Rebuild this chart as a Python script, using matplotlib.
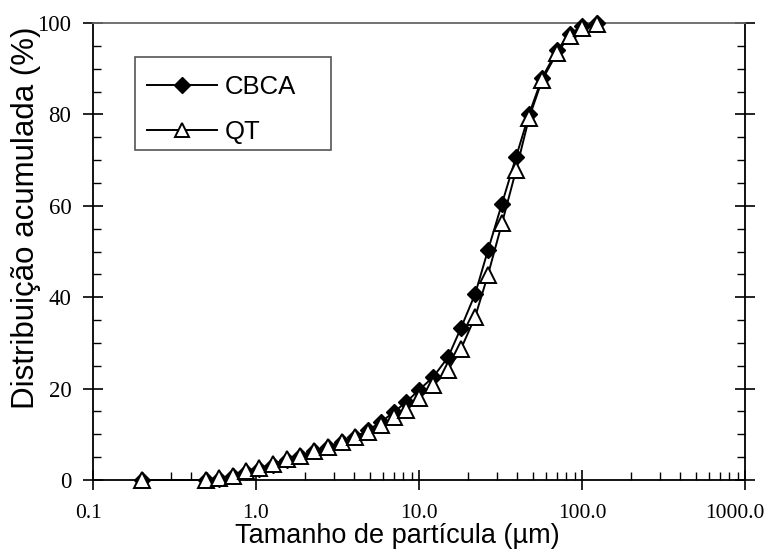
import matplotlib
matplotlib.use("Agg")
import matplotlib.pyplot as plt
import matplotlib.transforms as mtransforms
from matplotlib.patches import Rectangle
from matplotlib.ticker import FixedLocator, FixedFormatter, MultipleLocator, NullFormatter

# particle size classes (µm)
sizes = [0.2, 0.49, 0.59, 0.72, 0.87, 1.04, 1.27, 1.55, 1.86, 2.27, 2.77,
         3.37, 4.05, 4.87, 5.85, 7.03, 8.32, 10.0, 12.2, 15.1, 18.1, 22.1,
         26.5, 32.3, 39.4, 47.3, 56.9, 70.3, 84.4, 100.0, 123.6]

# cumulative passing (%)
cbca = [0.0, 0.0, 0.3, 0.8, 1.7, 2.4, 3.3, 4.3, 5.2, 6.3, 7.2,
        8.3, 9.4, 10.9, 12.7, 14.9, 17.0, 19.7, 22.5, 26.9, 33.3, 40.7,
        50.3, 60.5, 70.7, 80.0, 88.0, 94.0, 97.6, 99.3, 100.0]
qt = [0.0, 0.0, 0.4, 0.9, 2.0, 2.6, 3.5, 4.5, 5.3, 6.4, 7.3,
      8.4, 9.4, 10.5, 12.0, 13.8, 15.3, 17.9, 20.8, 24.1, 28.7, 35.7,
      44.9, 56.2, 67.8, 79.2, 87.5, 93.5, 97.2, 99.0, 99.8]

x_ticks = [0.1, 1.0, 10.0, 100.0, 1000.0]
x_tick_labels = ["0.1", "1.0", "10.0", "100.0", "1000.0"]

serif = "Liberation Serif"
sans = "Liberation Sans"

W, H = 774, 550
fig = plt.figure(figsize=(W / 100, H / 100), dpi=100)
ax = fig.add_axes([93 / W, 1 - 480 / H, 652 / W, 457 / H])


def ax_frac(px, py):
    """pixel position (from top-left of the figure) -> axes fraction"""
    return (px - 93) / 652, (480 - py) / 457


ax.plot(sizes, cbca, color="black", lw=1.4, marker="D", ms=8.5,
        mfc="black", mec="black", label="CBCA", zorder=3, clip_on=False)
ax.plot(sizes, qt, color="black", lw=1.4, marker="^", ms=11,
        mfc="white", mec="black", mew=1.4, label="QT", zorder=4, clip_on=False)

ax.set_xscale("log")
ax.set_xlim(0.1, 1000)
ax.set_ylim(0, 100)

ax.xaxis.set_major_locator(FixedLocator(x_ticks))
ax.xaxis.set_major_formatter(FixedFormatter(x_tick_labels))
ax.xaxis.set_minor_formatter(NullFormatter())
ax.yaxis.set_major_locator(MultipleLocator(20))
ax.yaxis.set_minor_locator(MultipleLocator(5))

ax.tick_params(axis="x", which="major", direction="inout", length=14,
               width=1.2, pad=10, labelsize=15.5)
ax.tick_params(axis="x", which="minor", direction="in", length=6, width=1.0)
ax.tick_params(axis="y", which="major", direction="inout", length=15,
               width=1.2, pad=8, labelsize=16.5, right=True)
ax.tick_params(axis="y", which="minor", direction="in", length=6, width=1.0,
               right=True)
for lbl in ax.get_xticklabels() + ax.get_yticklabels():
    lbl.set_fontfamily(serif)

# pull the end labels in a little so they stay on the canvas
xlabels = ax.get_xticklabels()
for lbl, dx in ((xlabels[0], -4), (xlabels[-1], -10)):
    lbl.set_transform(lbl.get_transform()
                      + mtransforms.ScaledTranslation(dx / 100, 0, fig.dpi_scale_trans))

for side in ("left", "bottom", "right"):
    ax.spines[side].set_linewidth(1.3)
ax.spines["top"].set_color("#666666")
ax.spines["top"].set_linewidth(1.3)

ax.set_xlabel("Tamanho de partícula (µm)", fontsize=19.5, family=sans)
ax.xaxis.set_label_coords(ax_frac(397, 0)[0], ax_frac(0, 536)[1])
ax.set_ylabel("Distribuição acumulada (%)", fontsize=22.5, family=sans)
ax.yaxis.set_label_coords(ax_frac(26, 0)[0], ax_frac(0, 218)[1])
ax.xaxis.label.set_verticalalignment("center")
ax.yaxis.label.set_verticalalignment("center")

# legend box drawn separately so it can be wider than the entries
x0, y0 = ax_frac(135, 150)
x1, y1 = ax_frac(331, 57)
ax.add_patch(Rectangle((x0, y0), x1 - x0, y1 - y0, transform=ax.transAxes,
                       fill=True, facecolor="white", edgecolor="#555555",
                       lw=1.2, zorder=5))
leg = ax.legend(loc="upper left", bbox_to_anchor=ax_frac(135, 63),
                borderaxespad=0, frameon=False,
                prop={"family": sans, "size": 18.5}, handlelength=2.75,
                handletextpad=0.3, labelspacing=0.85, borderpad=0.45,
                markerscale=0.9)
leg.set_zorder(6)

fig.savefig("out.png", dpi=100)
